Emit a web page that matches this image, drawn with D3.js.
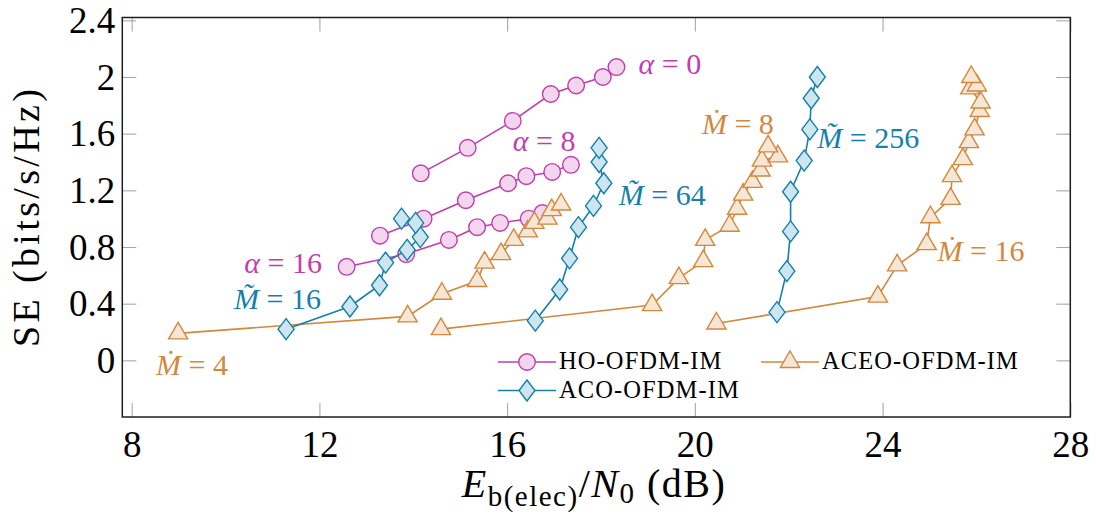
<!DOCTYPE html>
<html><head><meta charset="utf-8">
<script src="https://cdn.jsdelivr.net/npm/d3@7"></script>
<style>body{margin:0;background:#fff}svg{display:block}text{font-family:"Liberation Serif","DejaVu Serif",serif}</style>
</head><body><svg id="c" width="1096" height="515"></svg>
<script>
// ---- data ----
const xTicks = [8, 12, 16, 20, 24, 28];
const yTicks = [0, 0.4, 0.8, 1.2, 1.6, 2, 2.4];
const yTickLabels = ["0", "0.4", "0.8", "1.2", "1.6", "2", "2.4"];
const legendNames = ["HO-OFDM-IM", "ACEO-OFDM-IM", "ACO-OFDM-IM"];

const hoAlpha0  = [[14.16,1.32],[15.16,1.50],[16.12,1.69],[16.93,1.88],[17.47,1.94],[18.04,2.00],[18.33,2.07]];
const hoAlpha8  = [[13.29,0.88],[14.22,1.00],[15.12,1.13],[16.02,1.25],[16.41,1.30],[16.96,1.33],[17.36,1.38]];
const hoAlpha16 = [[12.58,0.66],[13.85,0.75],[14.76,0.85],[15.36,0.94],[15.85,0.97],[16.46,1.00],[16.75,1.04]];

const aceoM4  = [[8.99,0.19],[13.88,0.31],[14.61,0.47],[15.36,0.56],[15.52,0.69],[15.87,0.75],[16.14,0.85],[16.44,0.91],[16.58,0.97],[16.86,1.00],[16.95,1.06],[17.15,1.10]];
const aceoM8  = [[14.59,0.22],[19.09,0.39],[19.66,0.58],[20.18,0.70],[20.22,0.85],[20.74,0.95],[20.90,1.07],[21.03,1.17],[21.23,1.26],[21.40,1.34],[21.43,1.41],[21.77,1.44],[21.56,1.51]];
const aceoM16 = [[20.46,0.26],[23.90,0.45],[24.31,0.67],[24.94,0.82],[25.02,1.01],[25.45,1.14],[25.48,1.30],[25.71,1.42],[25.84,1.54],[25.96,1.63],[26.07,1.76],[26.09,1.82],[25.87,1.92],[26.01,1.94],[25.89,2.00]];

const acoM16  = [[11.29,0.22],[12.65,0.38],[13.28,0.53],[13.41,0.69],[13.87,0.78],[14.15,0.87],[14.05,0.97],[13.75,1.00]];
const acoM64  = [[16.60,0.28],[17.12,0.50],[17.33,0.72],[17.52,0.94],[17.84,1.09],[18.06,1.25],[17.96,1.40],[17.96,1.50]];
const acoM256 = [[21.75,0.34],[21.96,0.63],[22.04,0.91],[22.04,1.19],[22.33,1.41],[22.45,1.63],[22.48,1.85],[22.61,2.00]];

// annotations
const notes = [
  {sym:"α", val:"0",  x:18.80, y:2.02, fam:"ho"},
  {sym:"α", val:"8",  x:16.12, y:1.48, fam:"ho"},
  {sym:"α", val:"16", x:10.40, y:0.62, fam:"ho"},
  {sym:"M\u0303", val:"16",  x:10.18, y:0.36, fam:"aco"},
  {sym:"M\u0303", val:"64",  x:18.38, y:1.10, fam:"aco"},
  {sym:"M\u0303", val:"256", x:22.61, y:1.50, fam:"aco"},
  {sym:"\u1E40", val:"4",  x:8.52,  y:-0.10, fam:"aceo"},
  {sym:"\u1E40", val:"8",  x:20.15, y:1.60, fam:"aceo"},
  {sym:"\u1E40", val:"16", x:25.17, y:0.70, fam:"aceo"}
];

// ---- styles ----
const sty = {
  ho:   {stroke:"#c23cad", fill:"#f2d6ed"},
  aco:  {stroke:"#1580a8", fill:"#cde5ef"},
  aceo: {stroke:"#d2883d", fill:"#f6e6d6"}
};

const svg = d3.select("#c");
const L = 122.3, R = 1070.3, T = 17.5, B = 417;
const x = d3.scaleLinear().domain([7.8, 28]).range([L, R]);
const y = d3.scaleLinear().domain([-0.4, 2.42]).range([B, T]);

function styleTicks(g){ g.select(".domain").remove(); g.selectAll(".tick line").attr("stroke","#a8a8a8").attr("stroke-width",1.1); }
const tickLen = 14;
svg.append("g").attr("transform",`translate(0,${B})`)
  .call(d3.axisBottom(x).tickValues(xTicks).tickSize(-tickLen).tickFormat(d3.format("d")))
  .call(styleTicks)
  .call(g=>g.selectAll("text").attr("y",40).attr("dy",null).attr("fill","#000").style("font-size","37px").style("font-family","Liberation Serif"));
svg.append("g").attr("transform",`translate(0,${T})`)
  .call(d3.axisTop(x).tickValues(xTicks).tickSize(-tickLen).tickFormat(""))
  .call(styleTicks);
svg.append("g").attr("transform",`translate(${L},0)`)
  .call(d3.axisLeft(y).tickValues(yTicks).tickSize(-tickLen).tickFormat((d,i)=>yTickLabels[i]))
  .call(styleTicks)
  .call(g=>g.selectAll("text").attr("x",-7).attr("dy","0.33em").attr("fill","#000").style("font-size","37px").style("font-family","Liberation Serif"));
svg.append("g").attr("transform",`translate(${R},0)`)
  .call(d3.axisRight(y).tickValues(yTicks).tickSize(-tickLen).tickFormat(""))
  .call(styleTicks);

svg.append("rect").attr("x",L).attr("y",T).attr("width",R-L).attr("height",B-T)
  .attr("fill","none").attr("stroke","#1e1e1e").attr("stroke-width",1.5);

const sym = {
  ho:   "M0,-8.3A8.3,8.3 0 1,1 0,8.3A8.3,8.3 0 1,1 0,-8.3Z",
  aco:  "M0,-10.5L8,0L0,10.5L-8,0Z",
  aceo: "M0,-11L9.6,5.5L-9.6,5.5Z"
};
const line = d3.line().x(d=>x(d[0])).y(d=>y(d[1]));
function series(data, fam){
  const s = sty[fam];
  const g = svg.append("g");
  g.append("path").attr("d",line(data)).attr("fill","none").attr("stroke",s.stroke).attr("stroke-width",1.6);
  g.selectAll("path.m").data(data).join("path").attr("class","m")
    .attr("transform",d=>`translate(${x(d[0])},${y(d[1])})`)
    .attr("d",sym[fam]).attr("fill",s.fill).attr("stroke",s.stroke).attr("stroke-width",1.4);
}
[hoAlpha0, hoAlpha8, hoAlpha16].forEach(d=>series(d,"ho"));
[aceoM4, aceoM8, aceoM16].forEach(d=>series(d,"aceo"));
[acoM16, acoM64, acoM256].forEach(d=>series(d,"aco"));

notes.forEach(n=>{
  const t = svg.append("text").attr("x",x(n.x)).attr("y",y(n.y))
    .attr("fill",sty[n.fam].stroke).style("font-size","30px");
  t.append("tspan").style("font-style","italic").text(n.sym);
  t.append("tspan").text(" = " + n.val);
});

const leg = [
  {name:legendNames[0], fam:"ho",   lx:498, ly:362},
  {name:legendNames[1], fam:"aceo", lx:761, ly:362},
  {name:legendNames[2], fam:"aco",  lx:498, ly:390.5}
];
leg.forEach(l=>{
  const s = sty[l.fam];
  svg.append("line").attr("x1",l.lx).attr("x2",l.lx+58).attr("y1",l.ly).attr("y2",l.ly)
    .attr("stroke",s.stroke).attr("stroke-width",1.6);
  svg.append("path").attr("transform",`translate(${l.lx+29},${l.ly})`).attr("d",sym[l.fam])
    .attr("fill",s.fill).attr("stroke",s.stroke).attr("stroke-width",1.4);
  svg.append("text").attr("x",l.lx+61).attr("y",l.ly+7).attr("fill","#000")
    .style("font-size","24.5px").style("letter-spacing","1.1px").text(l.name);
});

svg.append("text").attr("transform",`translate(39,218) rotate(-90)`).attr("text-anchor","middle")
  .attr("fill","#000").style("font-size","38px").attr("textLength",258).attr("lengthAdjust","spacing")
  .text("SE (bits/s/Hz)");
const xt = svg.append("text").attr("x",594).attr("y",497).attr("text-anchor","middle").attr("fill","#000")
  .style("font-size","40px").style("letter-spacing","1.5px");
xt.append("tspan").style("font-style","italic").text("E");
xt.append("tspan").attr("dy",9).style("font-size","29px").text("b(elec)");
xt.append("tspan").attr("dy",-9).text("/");
xt.append("tspan").style("font-style","italic").text("N");
xt.append("tspan").attr("dy",6).style("font-size","29px").text("0");
xt.append("tspan").attr("dy",-6).text(" (dB)");
</script>
</body></html>
